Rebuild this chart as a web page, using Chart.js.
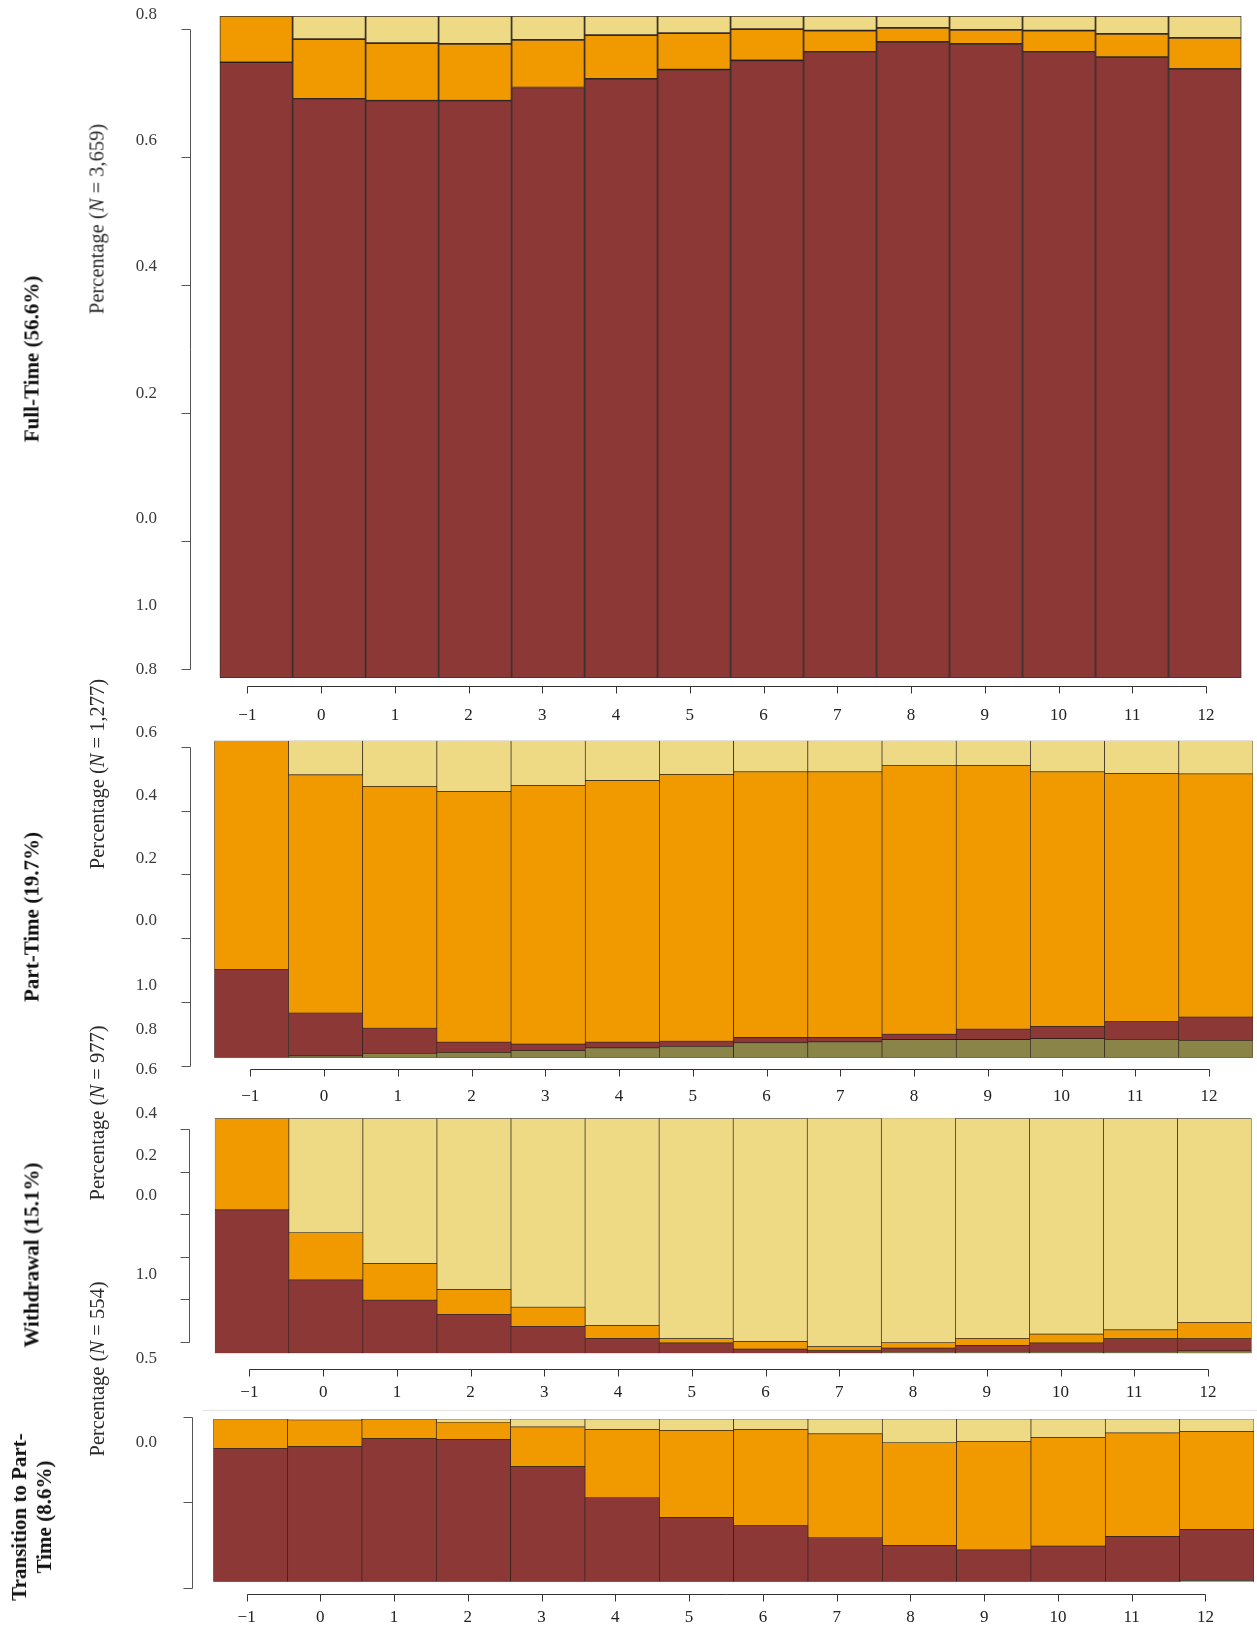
<!DOCTYPE html>
<html>
<head>
<meta charset="utf-8">
<script src="https://cdn.jsdelivr.net/npm/chart.js@4.4.1/dist/chart.umd.min.js"></script>
<style>
  html, body { margin: 0; padding: 0; background: #fff; }
  #page { position: relative; width: 1257px; height: 1631px; overflow: hidden;
          font-family: "Liberation Serif", "DejaVu Serif", serif; color: #222; }
  canvas { position: absolute; left: 0; }
  .rot { position: absolute; white-space: nowrap; transform: translate(-50%, -50%) rotate(-90deg); }
  .title { font-weight: bold; font-size: 21px; color: #111; text-align: center; line-height: 25px; }
  .ylab { font-size: 20.5px; color: #2a2a2a; }
  .ytick { position: absolute; white-space: nowrap; font-size: 17px; color: #3a3a3a;
           transform: translate(-100%, -50%); }
  .divider { position: absolute; left: 202px; top: 1410px; width: 1055px; height: 1px; background: #e3e3e3; }
</style>
</head>
<body>
<div id="page"></div>
<script>
// years relative to the transition
const years = [-1, 0, 1, 2, 3, 4, 5, 6, 7, 8, 9, 10, 11, 12];
const xTickLabels = years.map(y => y < 0 ? '\u2212' + Math.abs(y) : String(y));

// states, stacked bottom to top
const stateNames = ['Other', 'Full-time', 'Part-time', 'Not enrolled'];
const stateColors = ['#8a8448', '#8b3836', '#f09a00', '#eed985'];

// Full-Time cluster
const ftOlive  = [0, 0, 0, 0, 0, 0, 0, 0, 0, 0, 0, 0, 0, 0];
const ftRed    = [0.930, 0.875, 0.872, 0.872, 0.892, 0.905, 0.919, 0.933, 0.946, 0.961, 0.958, 0.946, 0.938, 0.920];
const ftOrange = [0.070, 0.090, 0.087, 0.086, 0.072, 0.066, 0.055, 0.047, 0.032, 0.021, 0.021, 0.032, 0.035, 0.047];
const ftYellow = [0.000, 0.035, 0.041, 0.042, 0.036, 0.029, 0.026, 0.020, 0.022, 0.018, 0.021, 0.022, 0.027, 0.033];

// Part-Time cluster
const ptOlive  = [0.000, 0.006, 0.014, 0.017, 0.022, 0.031, 0.036, 0.047, 0.050, 0.057, 0.057, 0.060, 0.058, 0.055];
const ptRed    = [0.279, 0.135, 0.079, 0.032, 0.021, 0.018, 0.016, 0.017, 0.014, 0.017, 0.033, 0.038, 0.057, 0.073];
const ptOrange = [0.721, 0.751, 0.763, 0.791, 0.816, 0.825, 0.842, 0.838, 0.838, 0.847, 0.832, 0.804, 0.782, 0.767];
const ptYellow = [0.000, 0.108, 0.144, 0.160, 0.141, 0.126, 0.106, 0.098, 0.098, 0.079, 0.078, 0.098, 0.103, 0.105];

// Withdrawal cluster
const wdOlive  = [0.000, 0.001, 0.000, 0.000, 0.000, 0.000, 0.000, 0.000, 0.001, 0.004, 0.004, 0.004, 0.004, 0.010];
const wdRed    = [0.610, 0.311, 0.226, 0.166, 0.115, 0.064, 0.044, 0.018, 0.010, 0.018, 0.030, 0.040, 0.058, 0.052];
const wdOrange = [0.390, 0.201, 0.157, 0.106, 0.081, 0.055, 0.018, 0.033, 0.017, 0.024, 0.030, 0.038, 0.038, 0.070];
const wdYellow = [0.000, 0.487, 0.617, 0.728, 0.804, 0.881, 0.938, 0.949, 0.973, 0.957, 0.936, 0.918, 0.900, 0.868];

// Transition to Part-Time cluster
const trOlive  = [0, 0, 0, 0, 0, 0, 0, 0, 0, 0, 0, 0, 0, 0.008];
const trRed    = [0.820, 0.830, 0.879, 0.873, 0.707, 0.516, 0.395, 0.344, 0.270, 0.223, 0.195, 0.219, 0.279, 0.314];
const trOrange = [0.180, 0.164, 0.117, 0.107, 0.244, 0.420, 0.535, 0.592, 0.639, 0.631, 0.668, 0.668, 0.635, 0.602];
const trYellow = [0.000, 0.006, 0.004, 0.020, 0.049, 0.064, 0.070, 0.064, 0.091, 0.146, 0.137, 0.113, 0.086, 0.076];

// y axis tick values and the (misplaced) tick label texts of each panel
const yTicks6 = [0, 0.2, 0.4, 0.6, 0.8, 1];
const yTicks3 = [0, 0.5, 1];
const ftTickText = ['0.8', '0.6', '0.4', '0.2', '0.0', '1.0', '0.8'];
const ptTickText = ['0.6', '0.4', '0.2', '0.0', '1.0', '0.8', '0.6'];
const wdTickText = ['0.4', '0.2', '0.0', '1.0', '0.5'];
const trTickText = ['0.0'];

const panels = [
  { title: 'Full-Time (56.6%)', n: '3,659', series: [ftOlive, ftRed, ftOrange, ftYellow],
    yTicks: yTicks6, tickText: ftTickText,
    lay: { band: [0, 730], plot: [219.6, 16, 1241.5, 678], edge: 1.2,
           yTickPx: [668.5, 29.1], yAxisX: 190, xTickPx: [247.4, 1206], xAxisY: 685.7, xLabelY: 716,
           tickTextY: [13.5, 140, 265.5, 393, 518, 605, 668.5], titleY: 359, ylabY: 218.7 } },
  { title: 'Part-Time (19.7%)', n: '1,277', series: [ptOlive, ptRed, ptOrange, ptYellow],
    yTicks: yTicks6, tickText: ptTickText,
    lay: { band: [730, 1110], plot: [214.3, 740.7, 1253, 1057.7], edge: 0.7,
           yTickPx: [1065.7, 746.7], yAxisX: 190, xTickPx: [250.3, 1209], xAxisY: 1069.3, xLabelY: 1096.7,
           tickTextY: [732, 795, 857.7, 920, 985, 1029, 1069], titleY: 916.5, ylabY: 773.5 } },
  { title: 'Withdrawal (15.1%)', n: '977', series: [wdOlive, wdRed, wdOrange, wdYellow],
    yTicks: yTicks6, tickText: wdTickText,
    lay: { band: [1110, 1408], plot: [214.8, 1118.3, 1251.6, 1353.3], edge: 0.7,
           yTickPx: [1342, 1129.2], yAxisX: 189, xTickPx: [249.4, 1208], xAxisY: 1368.7, xLabelY: 1393,
           tickTextY: [1113, 1154.7, 1195.4, 1273.5, 1358.3], titleY: 1255, ylabY: 1113 } },
  { title: 'Transition to Part-<br>Time (8.6%)', n: '554', series: [trOlive, trRed, trOrange, trYellow],
    yTicks: yTicks3, tickText: trTickText,
    lay: { band: [1408, 1631], plot: [213.3, 1419, 1254, 1581.7], edge: 0.7,
           yTickPx: [1587.7, 1416.6], yAxisX: 191.5, xTickPx: [246.6, 1205.4], xAxisY: 1594, xLabelY: 1617.7,
           tickTextY: [1442], titleY: 1517, ylabY: 1369 } }
];

// R-style detached axes, placed with the hidden xt / yt scales
const rAxes = {
  id: 'rAxes',
  afterDraw(chart, args, o) {
    const ctx = chart.ctx, xt = chart.scales.xt, yt = chart.scales.yt;
    ctx.save();
    ctx.lineWidth = 1;
    // x axis
    ctx.strokeStyle = '#333';
    const ya = Math.round(o.xAxisY) + 0.5;
    ctx.beginPath();
    ctx.moveTo(Math.round(xt.getPixelForValue(years[0])) + 0.5, ya);
    ctx.lineTo(Math.round(xt.getPixelForValue(years[years.length - 1])) + 0.5, ya);
    years.forEach(v => {
      const px = Math.round(xt.getPixelForValue(v)) + 0.5;
      ctx.moveTo(px, ya); ctx.lineTo(px, ya + 7);
    });
    ctx.stroke();
    ctx.fillStyle = '#222';
    ctx.font = '17px "Liberation Serif", serif';
    ctx.textAlign = 'center';
    ctx.textBaseline = 'middle';
    years.forEach((v, i) => ctx.fillText(xTickLabels[i], xt.getPixelForValue(v), o.xLabelY));
    // y axis
    ctx.strokeStyle = '#555';
    const xa = Math.round(o.yAxisX) + 0.5;
    ctx.beginPath();
    ctx.moveTo(xa, Math.round(yt.getPixelForValue(o.yTicks[0])) + 0.5);
    ctx.lineTo(xa, Math.round(yt.getPixelForValue(o.yTicks[o.yTicks.length - 1])) + 0.5);
    o.yTicks.forEach(v => {
      const py = Math.round(yt.getPixelForValue(v)) + 0.5;
      ctx.moveTo(xa, py); ctx.lineTo(xa - 9, py);
    });
    ctx.stroke();
    ctx.restore();
  }
};

const page = document.getElementById('page');
const W = 1257;

panels.forEach(p => {
  const L = p.lay, [b0, b1] = L.band, [pl, pt, pr, pb] = L.plot;
  const canvas = document.createElement('canvas');
  canvas.width = W; canvas.height = b1 - b0;
  canvas.style.top = b0 + 'px';
  canvas.style.width = W + 'px'; canvas.style.height = (b1 - b0) + 'px';
  page.appendChild(canvas);

  // ranges of the axis scales so their ticks fall where the original drew them
  const ux = (L.xTickPx[1] - L.xTickPx[0]) / (years[years.length - 1] - years[0]);
  const xtMin = years[0] - (L.xTickPx[0] - pl) / ux;
  const xtMax = years[years.length - 1] + (pr - L.xTickPx[1]) / ux;
  const yv0 = p.yTicks[0], yv1 = p.yTicks[p.yTicks.length - 1];
  const uy = (L.yTickPx[0] - L.yTickPx[1]) / (yv1 - yv0);
  const ytMax = yv1 + (L.yTickPx[1] - pt) / uy;
  const ytMin = yv0 - (pb - L.yTickPx[0]) / uy;

  new Chart(canvas, {
    type: 'bar',
    data: {
      labels: xTickLabels,
      datasets: stateNames.map((name, k) => ({
        label: name,
        data: p.series[k],
        backgroundColor: stateColors[k],
        borderColor: 'rgba(25,12,5,0.85)',
        borderWidth: L.edge,
        borderSkipped: false,
        barPercentage: 1,
        categoryPercentage: 1
      }))
    },
    options: {
      responsive: false,
      animation: false,
      devicePixelRatio: 1,
      layout: { padding: { left: pl, right: W - pr, top: pt - b0, bottom: b1 - pb } },
      plugins: {
        legend: { display: false },
        tooltip: { enabled: false },
        rAxes: { yTicks: p.yTicks, xAxisY: L.xAxisY - b0, xLabelY: L.xLabelY - b0, yAxisX: L.yAxisX }
      },
      scales: {
        x: { stacked: true, display: false },
        y: { stacked: true, display: false, min: 0, max: 1 },
        xt: { type: 'linear', display: false, position: 'bottom', offset: false, grace: 0, min: xtMin, max: xtMax },
        yt: { type: 'linear', display: false, position: 'left', offset: false, grace: 0, min: ytMin, max: ytMax }
      }
    },
    plugins: [rAxes]
  });

  // text around the panel
  const t = document.createElement('div');
  t.className = 'rot title';
  t.style.left = '31.5px'; t.style.top = L.titleY + 'px';
  t.innerHTML = p.title;
  page.appendChild(t);

  const yl = document.createElement('div');
  yl.className = 'rot ylab';
  yl.style.left = '96.7px'; yl.style.top = L.ylabY + 'px';
  yl.innerHTML = 'Percentage (<i>N</i> = ' + p.n + ')';
  page.appendChild(yl);

  p.tickText.forEach((txt, i) => {
    const d = document.createElement('div');
    d.className = 'ytick';
    d.style.left = '157px'; d.style.top = L.tickTextY[i] + 'px';
    d.textContent = txt;
    page.appendChild(d);
  });
});

const div = document.createElement('div');
div.className = 'divider';
page.appendChild(div);
</script>
</body>
</html>
